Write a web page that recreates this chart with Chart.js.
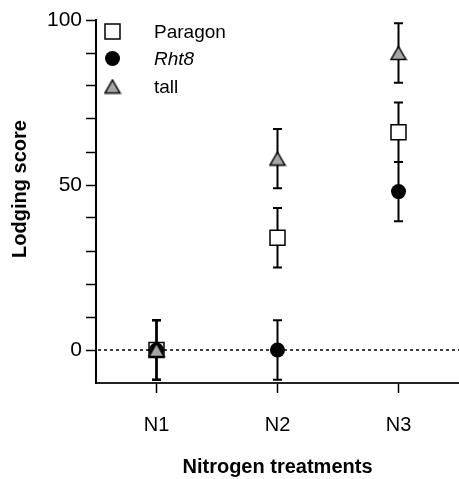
<!DOCTYPE html>
<html>
<head>
<meta charset="utf-8">
<script src="https://cdn.jsdelivr.net/npm/chart.js@4/dist/chart.umd.min.js"></script>
<style>
  html, body { margin: 0; padding: 0; background: #fff; }
  #wrap { width: 459px; height: 479px; }
</style>
</head>
<body>
<div id="wrap"><canvas id="c" width="459" height="479"></canvas></div>
<script>
// Lodging score by nitrogen treatment, three genotypes, mean +/- error

const categories = ['N1', 'N2', 'N3']
const paragon = [0, 34, 66]
const paragonErr = [9, 9, 9]
const rht8 = [0, 0, 48]
const rht8Err = [9, 9, 9]
const tall = [0, 58, 90]
const tallErr = [9, 9, 9]
const yTickLabels = [0, 50, 100]

const FONT = '"Liberation Sans", Arial, sans-serif'
Chart.defaults.font.family = FONT
Chart.defaults.color = '#000'

// triangle drawn centred on its bounding box (like the original plot)
function makeTriangle() {
  const c = document.createElement('canvas')
  c.width = 18
  c.height = 16
  const g = c.getContext('2d')
  g.beginPath()
  g.moveTo(9, 1.5)
  g.lineTo(16.5, 14.5)
  g.lineTo(1.5, 14.5)
  g.closePath()
  g.fillStyle = '#a6a6a6'
  g.fill()
  g.lineWidth = 1.5
  g.strokeStyle = '#000'
  g.stroke()
  return c
}
const triangleImg = makeTriangle()

const errorBars = {
  id: 'errorBars',
  beforeDatasetsDraw(chart) {
    const { ctx, chartArea, scales: { x, y } } = chart
    // dotted zero line
    ctx.save()
    ctx.setLineDash([3, 3])
    ctx.lineWidth = 1.5
    ctx.strokeStyle = '#000'
    const y0 = y.getPixelForValue(0)
    ctx.beginPath()
    ctx.moveTo(chartArea.left + 2, y0)
    ctx.lineTo(chartArea.right, y0)
    ctx.stroke()
    ctx.restore()

    ctx.save()
    ctx.lineWidth = 2
    ctx.strokeStyle = '#000'
    chart.data.datasets.forEach(ds => {
      ds.data.forEach((v, i) => {
        const e = ds.errors[i]
        const px = x.getPixelForValue(i)
        const top = y.getPixelForValue(v + e)
        const bot = y.getPixelForValue(v - e)
        ctx.beginPath()
        ctx.moveTo(px, top)
        ctx.lineTo(px, bot)
        ctx.moveTo(px - 4.5, top)
        ctx.lineTo(px + 4.5, top)
        ctx.moveTo(px - 4.5, bot)
        ctx.lineTo(px + 4.5, bot)
        ctx.stroke()
      })
    })
    ctx.restore()
  },
  afterDraw(chart) {
    const { ctx, scales: { y } } = chart
    // y axis title
    ctx.save()
    ctx.font = 'bold 20px ' + FONT
    ctx.fillStyle = '#000'
    ctx.textAlign = 'center'
    ctx.textBaseline = 'middle'
    ctx.translate(20, (y.getPixelForValue(0) + y.getPixelForValue(100)) / 2 + 4)
    ctx.rotate(-Math.PI / 2)
    ctx.fillText('Lodging score', 0, 0)
    ctx.restore()

    // legend
    ctx.save()
    const lx = 112.5
    const rows = [31.5, 58.5, 86.5]
    ctx.lineWidth = 1.5
    ctx.strokeStyle = '#000'
    ctx.fillStyle = '#fff'
    ctx.beginPath()
    ctx.rect(lx - 7.5, rows[0] - 7.5, 15, 15)
    ctx.fill()
    ctx.stroke()
    ctx.fillStyle = '#000'
    ctx.beginPath()
    ctx.arc(lx, rows[1], 7.5, 0, Math.PI * 2)
    ctx.fill()
    ctx.drawImage(triangleImg, lx - 9, rows[2] - 8)

    ctx.textAlign = 'left'
    ctx.textBaseline = 'middle'
    ctx.fillStyle = '#000'
    ctx.font = '19px ' + FONT
    ctx.fillText('Paragon', 154, rows[0] + 1)
    ctx.font = 'italic 19px ' + FONT
    ctx.fillText('Rht8', 154, rows[1] + 1)
    ctx.font = '19px ' + FONT
    ctx.fillText('tall', 154, rows[2] + 1)
    ctx.restore()
  }
}

new Chart(document.getElementById('c'), {
  type: 'line',
  data: {
    labels: categories,
    datasets: [
      {
        label: 'tall', data: tall, errors: tallErr, order: 0,
        showLine: false, pointStyle: triangleImg,
        pointRadius: 8, pointHoverRadius: 8
      },
      {
        label: 'Rht8', data: rht8, errors: rht8Err, order: 1,
        showLine: false, pointStyle: 'circle', pointRadius: 7.5, pointHoverRadius: 7.5,
        backgroundColor: '#000', borderColor: '#000', borderWidth: 0
      },
      {
        label: 'Paragon', data: paragon, errors: paragonErr, order: 2,
        showLine: false, pointStyle: 'rect', pointRadius: 10.6, pointHoverRadius: 10.6,
        backgroundColor: '#fff', borderColor: '#000', borderWidth: 1.5
      }
    ]
  },
  options: {
    responsive: false,
    animation: false,
    events: [],
    layout: { autoPadding: false, padding: { top: 20, right: 0, left: 0, bottom: 0 } },
    plugins: { legend: { display: false }, tooltip: { enabled: false } },
    scales: {
      x: {
        type: 'category',
        offset: true,
        grid: { drawOnChartArea: false, drawTicks: true, tickLength: 10, tickWidth: 1.5, tickColor: '#000', offset: false },
        border: { display: true, color: '#222', width: 2 },
        ticks: { color: '#000', font: { size: 20 }, padding: 20 },
        title: { display: true, text: 'Nitrogen treatments', color: '#000', font: { size: 20, weight: 'bold' }, padding: { top: 0, bottom: 0 } },
        afterFit(s) {
          s.height = 96
          s.paddingLeft = 0
          s.paddingRight = 0
        }
      },
      y: {
        min: -10,
        max: 100,
        grid: {
          drawOnChartArea: false, drawTicks: true, tickLength: 10, tickWidth: 1.5,
          tickColor: ctx => (ctx.tick && ctx.tick.value === -10 ? 'rgba(0,0,0,0)' : '#000')
        },
        border: { display: true, color: '#000', width: 2 },
        ticks: {
          stepSize: 10,
          color: '#000',
          font: { size: 21 },
          padding: 4,
          autoSkip: false,
          callback: v => (yTickLabels.includes(v) ? String(v) : '')
        },
        afterFit(s) {
          s.width = 96
          s.paddingTop = 0
          s.paddingBottom = 0
        }
      }
    }
  },
  plugins: [errorBars]
})
</script>
</body>
</html>
